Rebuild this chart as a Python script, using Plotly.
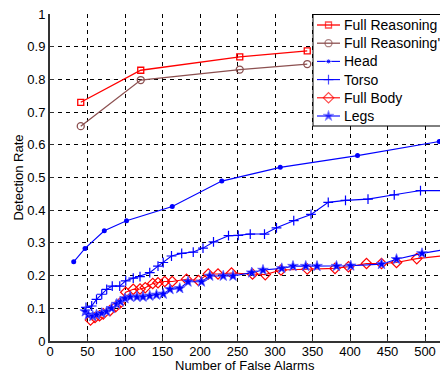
import plotly.graph_objects as go

# Full Reasoning
fr_x = [41, 121, 253, 343]
fr_y = [0.730, 0.828, 0.869, 0.887]
# Full Reasoning'
frp_x = [41, 121, 253, 343]
frp_y = [0.657, 0.798, 0.830, 0.847]
# Head
head_x = [31.6, 46.7, 72.4, 102, 163, 229, 307, 410, 519]
head_y = [0.242, 0.283, 0.337, 0.368, 0.411, 0.489, 0.531, 0.567, 0.610]
# Torso
torso_x = [48, 55.6, 62, 69, 75.6, 83, 93, 101, 111, 120, 133, 144, 151, 162, 175.6,
           191, 204, 218, 238, 251, 267, 286, 302, 325, 348, 371, 394, 424, 459, 494, 530]
torso_y = [0.103, 0.107, 0.127, 0.143, 0.158, 0.168, 0.168, 0.184, 0.192, 0.197, 0.209,
           0.229, 0.240, 0.260, 0.268, 0.272, 0.284, 0.303, 0.322, 0.323, 0.327, 0.327,
           0.346, 0.368, 0.387, 0.424, 0.430, 0.434, 0.447, 0.460, 0.460]
# Full Body
body_x = [54, 60, 66, 71, 80, 87.6, 93, 101, 111, 120, 127, 137, 144, 153, 163, 182,
          198, 211, 224, 242, 270, 287, 308, 343, 380, 398, 422, 442, 462, 489, 530]
body_y = [0.064, 0.072, 0.077, 0.083, 0.093, 0.105, 0.115, 0.149, 0.158, 0.159, 0.163,
          0.176, 0.178, 0.182, 0.182, 0.189, 0.185, 0.205, 0.205, 0.208, 0.205, 0.203,
          0.217, 0.220, 0.222, 0.227, 0.237, 0.237, 0.240, 0.252, 0.262]
# Legs
legs_x = [47, 51, 57, 62, 69, 75.6, 82, 89, 94, 100, 107, 116, 124, 133, 142, 151, 160,
          173, 184, 202, 213, 231, 244, 269, 284, 309, 324, 341, 356, 382, 401, 442, 462,
          496, 530]
legs_y = [0.090, 0.080, 0.076, 0.080, 0.085, 0.090, 0.100, 0.113, 0.120, 0.130, 0.135,
          0.135, 0.135, 0.138, 0.141, 0.144, 0.158, 0.161, 0.181, 0.181, 0.199, 0.199,
          0.199, 0.209, 0.217, 0.222, 0.229, 0.229, 0.229, 0.229, 0.230, 0.235, 0.250,
          0.268, 0.281]

series_names = ["Full Reasoning", "Full Reasoning'", "Head", "Torso", "Full Body", "Legs"]

x_ticks = [0, 50, 100, 150, 200, 250, 300, 350, 400, 450, 500]
y_ticks = [0, 0.1, 0.2, 0.3, 0.4, 0.5, 0.6, 0.7, 0.8, 0.9, 1]
y_tick_labels = ["0", "0.1", "0.2", "0.3", "0.4", "0.5", "0.6", "0.7", "0.8", "0.9", "1"]

BLUE = "#0000ff"
RED = "#ff0000"
BROWN = "#8c5050"
FONT = "Liberation Sans, Arial, sans-serif"

styles = [
    dict(line=dict(color=RED, width=1.3),
         marker=dict(symbol="square-open", size=6, color=RED, line=dict(width=1.3))),
    dict(line=dict(color=BROWN, width=1.3),
         marker=dict(symbol="circle-open", size=7, color=BROWN, line=dict(width=1.3))),
    dict(line=dict(color=BLUE, width=1.1),
         marker=dict(symbol="circle", size=5, color=BLUE)),
    dict(line=dict(color=BLUE, width=1.1),
         marker=dict(symbol="cross-thin", size=7, color=BLUE, line=dict(width=1.2, color=BLUE))),
    dict(line=dict(color=RED, width=1.1),
         marker=dict(symbol="diamond-open", size=8, color=RED, line=dict(width=1.2))),
    dict(line=dict(color=BLUE, width=1.1),
         marker=dict(symbol="star", size=8, color=BLUE, line=dict(width=0.8, color="#5a5aff"))),
]
series_data = [(fr_x, fr_y), (frp_x, frp_y), (head_x, head_y),
               (torso_x, torso_y), (body_x, body_y), (legs_x, legs_y)]

fig = go.Figure()
for name, (xs, ys), st in zip(series_names, series_data, styles):
    fig.add_trace(go.Scatter(x=xs, y=ys, name=name, mode="lines+markers",
                             showlegend=False, **st))

# ---- custom legend drawn on a pixel-space overlay axis pair ----
LX0, LY0, LY1 = 313, 14.5, 126     # box left / top / bottom (pixels)
row_y = [25, 43.2, 61.4, 79.6, 97.8, 116]
fig.add_trace(go.Scatter(x=[LX0, 470, 470, LX0, LX0], y=[LY0, LY0, LY1, LY1, LY0],
                         xaxis="x2", yaxis="y2", mode="lines", fill="toself",
                         fillcolor="white", line=dict(color="black", width=1),
                         showlegend=False, hoverinfo="skip"))
for name, st, ry in zip(series_names, styles, row_y):
    mk = dict(st["marker"])
    size = mk["size"]
    mk["size"] = [0, size, 0]
    fig.add_trace(go.Scatter(x=[317, 328.5, 340], y=[ry, ry, ry], xaxis="x2", yaxis="y2",
                             mode="lines+markers", line=st["line"], marker=mk,
                             showlegend=False, hoverinfo="skip"))
    fig.add_annotation(text=name, xref="x2", yref="y2", x=342, y=ry,
                       xanchor="left", yanchor="middle", showarrow=False,
                       font=dict(family=FONT, size=14, color="black"))

axis_font = dict(family=FONT, size=13, color="black")

fig.update_layout(
    width=440, height=373,
    margin=dict(l=50, r=0, t=14, b=32, autoexpand=False),
    paper_bgcolor="white", plot_bgcolor="white",
    font=axis_font,
    showlegend=False,
    xaxis=dict(range=[0, 520], tickvals=x_ticks, showgrid=True,
               gridcolor="black", griddash="4px,4px", gridwidth=1,
               showline=True, linecolor="#333", linewidth=2, mirror=False,
               ticks="inside", ticklen=4, tickcolor="#333", zeroline=False,
               tickfont=axis_font, automargin=False, ticklabelstandoff=-3),
    yaxis=dict(range=[0, 1], tickvals=y_ticks, ticktext=y_tick_labels, showgrid=True,
               gridcolor="black", griddash="4px,4px", gridwidth=1,
               showline=True, linecolor="#333", linewidth=2, mirror=False,
               ticks="inside", ticklen=4, tickcolor="#333", zeroline=False,
               tickfont=axis_font, automargin=False),
    xaxis2=dict(overlaying="x", range=[50, 440], visible=False, showgrid=False,
                zeroline=False, automargin=False),
    yaxis2=dict(overlaying="y", range=[341, 14], visible=False, showgrid=False,
                zeroline=False, automargin=False),
)
fig.add_annotation(text="Number of False Alarms", xref="paper", yref="paper",
                   x=0.5, y=-0.075, xanchor="center", yanchor="middle",
                   showarrow=False, font=dict(family=FONT, size=13, color="black"))
fig.add_annotation(text="Detection Rate", xref="paper", yref="paper",
                   x=-0.082, y=0.5, xanchor="center", yanchor="middle",
                   textangle=-90, showarrow=False,
                   font=dict(family=FONT, size=13, color="black"))

fig.write_html("out.html")
